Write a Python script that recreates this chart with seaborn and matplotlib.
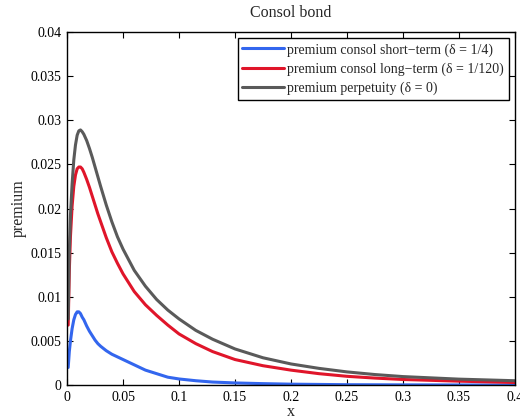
import matplotlib
matplotlib.use("Agg")
import matplotlib.pyplot as plt
import seaborn as sns
import pandas as pd

# values
x = [0.001, 0.002, 0.003, 0.0045, 0.006, 0.0075, 0.009, 0.0105, 0.012, 0.0135,
     0.015, 0.0175, 0.02, 0.0225, 0.025, 0.0275, 0.03, 0.035, 0.04, 0.045,
     0.05, 0.06, 0.07, 0.08, 0.09, 0.1, 0.115, 0.13, 0.15, 0.175,
     0.2, 0.225, 0.25, 0.275, 0.3, 0.35, 0.4]
short_term = [0.0020, 0.0038, 0.0050, 0.0064, 0.0074, 0.0080, 0.0083, 0.0083, 0.0081, 0.0077,
              0.0074, 0.0067, 0.0061, 0.0056, 0.0051, 0.0047, 0.0044, 0.0039, 0.0035, 0.0032,
              0.0029, 0.0023, 0.0017, 0.0013, 0.0009, 0.0007, 0.0005, 0.00035, 0.00025, 0.00017,
              0.00011, 0.00008, 0.00005, 0.00004, 0.00003, 0.00002, 0.00001]
long_term = [0.0068, 0.0130, 0.0168, 0.0203, 0.0225, 0.0238, 0.0245, 0.0247, 0.0247, 0.0245,
             0.0241, 0.0233, 0.0224, 0.0214, 0.0204, 0.0194, 0.0185, 0.0167, 0.0151, 0.0138,
             0.0126, 0.0106, 0.0091, 0.0079, 0.0068, 0.0058, 0.0047, 0.0038, 0.0029, 0.0022,
             0.0017, 0.0013, 0.0010, 0.0008, 0.00064, 0.00045, 0.0003]
perpetuity = [0.0075, 0.0150, 0.0192, 0.0228, 0.0255, 0.0272, 0.0283, 0.0288, 0.0289, 0.0287,
              0.0284, 0.0277, 0.0268, 0.0258, 0.0247, 0.0236, 0.0225, 0.0204, 0.0185, 0.0168,
              0.0154, 0.0130, 0.0112, 0.0097, 0.0085, 0.0075, 0.0062, 0.0052, 0.0041, 0.0031,
              0.0024, 0.0019, 0.0015, 0.0012, 0.00097, 0.00068, 0.0005]
labels = ["premium consol short\u2212term (\u03b4 = 1/4)",
          "premium consol long\u2212term (\u03b4 = 1/120)",
          "premium perpetuity (\u03b4 = 0)"]
colors = ["#3366ee", "#e0152a", "#5a5a5a"]

df = pd.concat([
    pd.DataFrame({"x": x, "premium": s, "series": lab})
    for s, lab in zip([short_term, long_term, perpetuity], labels)
])

sns.set_style("ticks")
plt.rcParams["font.family"] = ["Liberation Serif", "DejaVu Serif"]
plt.rcParams["font.size"] = 10

fig = plt.figure(figsize=(5.2, 4.2), dpi=100)
ax = fig.add_axes([0.129, 0.083, 0.861, 0.841])
sns.lineplot(data=df, x="x", y="premium", hue="series", palette=colors,
             linewidth=2.2, ax=ax, sort=False)

ax.set_xlim(0, 0.4)
ax.set_ylim(0, 0.04)
ax.set_xticks([0, 0.05, 0.1, 0.15, 0.2, 0.25, 0.3, 0.35, 0.4])
ax.set_xticklabels(["0", "0.05", "0.1", "0.15", "0.2", "0.25", "0.3", "0.35", "0.4"])
ax.set_yticks([0, 0.005, 0.01, 0.015, 0.02, 0.025, 0.03, 0.035, 0.04])
ax.set_yticklabels(["0", "0.005", "0.01", "0.015", "0.02", "0.025", "0.03", "0.035", "0.04"])
ax.tick_params(direction="in", top=True, right=True, length=4, width=0.8,
               labelsize=10, colors="black", pad=4)
for sp in ax.spines.values():
    sp.set_visible(True)
    sp.set_color("black")
    sp.set_linewidth(1)
ax.set_xlabel("x", fontsize=11.5, labelpad=0)
ax.set_ylabel("premium", fontsize=11.5, labelpad=3)
ax.set_title("Consol bond", fontsize=11.5, pad=11)

leg = ax.legend(loc="upper right", fontsize=10, frameon=True, fancybox=False,
                edgecolor="black", handlelength=3.0, borderaxespad=0.45,
                borderpad=0.35, labelspacing=0.42, handletextpad=0.2)
leg.get_frame().set_linewidth(1)
leg.get_frame().set_alpha(1)

fig.savefig("out.png", dpi=100)
